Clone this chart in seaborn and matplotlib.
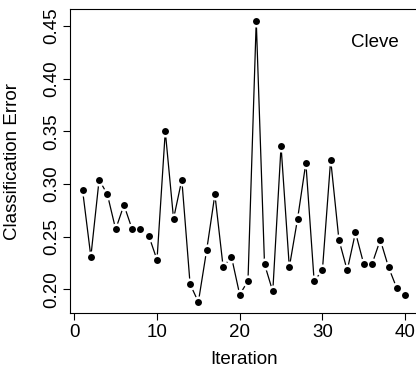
import matplotlib
matplotlib.use("Agg")
import matplotlib.pyplot as plt
import pandas as pd
import seaborn as sns

# valores
iteracion = list(range(1, 41))
error = [0.294, 0.231, 0.304, 0.290, 0.257, 0.280, 0.257, 0.257, 0.251, 0.228,
         0.350, 0.267, 0.304, 0.205, 0.188, 0.237, 0.290, 0.221, 0.231, 0.195,
         0.208, 0.455, 0.224, 0.198, 0.336, 0.221, 0.267, 0.320, 0.208, 0.218,
         0.323, 0.247, 0.218, 0.254, 0.224, 0.224, 0.247, 0.221, 0.201, 0.195]
x_ticks = [0, 10, 20, 30, 40]
y_ticks = [0.20, 0.25, 0.30, 0.35, 0.40, 0.45]
etiqueta = "Cleve"

df = pd.DataFrame({"Iteration": iteracion, "Error": error})

sns.set_style("white")
plt.rcParams['font.family'] = ['Liberation Sans', 'DejaVu Sans']
plt.rcParams['font.size'] = 13.5
for k in ["text.color", "axes.labelcolor", "xtick.color", "ytick.color", "axes.edgecolor"]:
    plt.rcParams[k] = "black"

fig = plt.figure(figsize=(4.16, 3.76), dpi=100)
ax = fig.add_axes([0.1675, 0.1668, 0.8373, 0.8085])

# estilo tipo "b" de R: línea, hueco blanco y punto negro
sns.lineplot(data=df, x="Iteration", y="Error", color="black", linewidth=0.9, ax=ax)
sns.scatterplot(data=df, x="Iteration", y="Error", color="white", s=75, linewidth=0, ax=ax, zorder=3)
sns.scatterplot(data=df, x="Iteration", y="Error", color="black", s=25, linewidth=0, ax=ax, zorder=4)

ax.margins(x=0.04, y=0.04)
ax.set_xticks(x_ticks)
ax.set_yticks(y_ticks)
ax.set_yticklabels([f"{v:.2f}" for v in y_ticks], rotation=90, va="center")
ax.tick_params(axis="both", direction="out", length=5, width=0.8, color="black",
               labelsize=13.5, bottom=True, left=True)
ax.tick_params(axis="x", pad=2.5)
ax.tick_params(axis="y", pad=2.0)

for s in ax.spines.values():
    s.set_visible(True)
    s.set_color("black")
    s.set_linewidth(0.8)

ax.set_xlabel("Iteration", fontsize=13.5)
ax.set_ylabel("Classification Error", fontsize=13.5)
ax.xaxis.set_label_coords(0.5, -0.125)
ax.yaxis.set_label_coords(-0.14, 0.5)

ax.text(0.8766, 0.877, etiqueta, transform=ax.transAxes, ha="center", va="baseline", fontsize=13.5)

fig.savefig("out.png", dpi=100)
